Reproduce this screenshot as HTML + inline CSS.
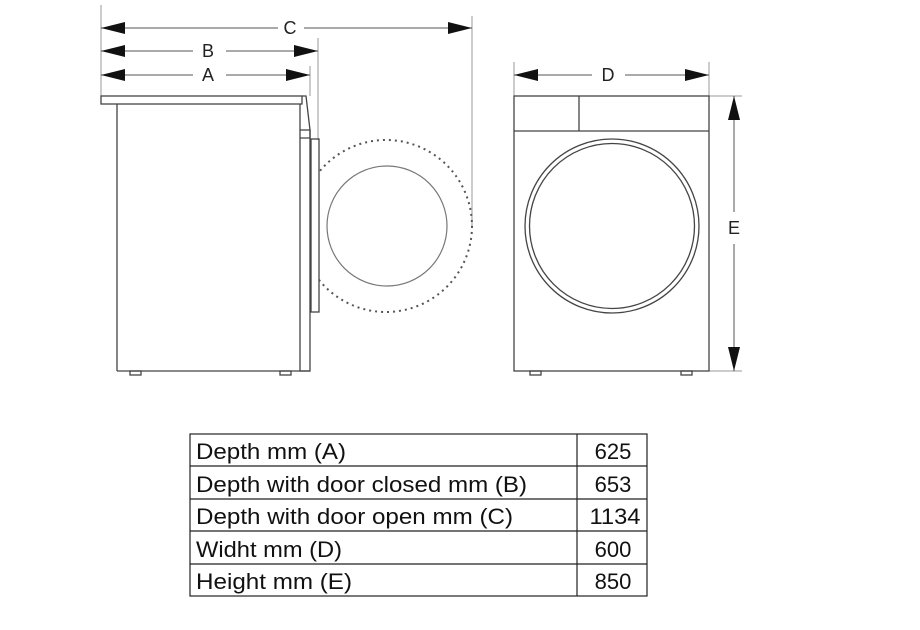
<!DOCTYPE html>
<html><head><style>
html,body{margin:0;padding:0;background:#fff;}
svg{display:block;}
</style></head><body>
<svg width="920" height="630" viewBox="0 0 920 630" xmlns="http://www.w3.org/2000/svg" font-family="Liberation Sans, sans-serif">
<defs>
<marker id="ah" markerWidth="24" markerHeight="12" refX="24" refY="6" orient="auto-start-reverse" markerUnits="userSpaceOnUse">
<path d="M0,0 L24,6 L0,12 Z" fill="#111"/></marker>
<clipPath id="cr"><rect x="319" y="100" width="200" height="260"/></clipPath>
</defs>
<g stroke="#999" stroke-width="1" fill="none">
<line x1="101" y1="5" x2="101" y2="96"/>
<line x1="318" y1="38" x2="318" y2="140"/>
<line x1="472" y1="16" x2="472" y2="226"/>
<line x1="310" y1="66" x2="310" y2="96"/>
<line x1="514" y1="62" x2="514" y2="96"/>
<line x1="709" y1="62" x2="709" y2="96"/>
<line x1="709" y1="96" x2="742" y2="96"/>
<line x1="709" y1="371" x2="742" y2="371"/>
</g>
<g stroke="#555" stroke-width="1">
<line x1="101" y1="28" x2="278" y2="28" marker-start="url(#ah)"/>
<line x1="304" y1="28" x2="472" y2="28" marker-end="url(#ah)"/>
<line x1="101" y1="51" x2="193" y2="51" marker-start="url(#ah)"/>
<line x1="226" y1="51" x2="318" y2="51" marker-end="url(#ah)"/>
<line x1="101" y1="75" x2="193" y2="75" marker-start="url(#ah)"/>
<line x1="226" y1="75" x2="310" y2="75" marker-end="url(#ah)"/>
<line x1="514" y1="75" x2="592" y2="75" marker-start="url(#ah)"/>
<line x1="625" y1="75" x2="709" y2="75" marker-end="url(#ah)"/>
<line x1="734" y1="96" x2="734" y2="212" marker-start="url(#ah)"/>
<line x1="734" y1="244" x2="734" y2="371" marker-end="url(#ah)"/>
</g>
<g font-size="18" fill="#222" text-anchor="middle">
<text x="290" y="34">C</text>
<text x="208" y="57">B</text>
<text x="208" y="81">A</text>
<text x="608" y="81">D</text>
<text x="734" y="234">E</text>
</g>
<g stroke="#444" stroke-width="1.3" fill="none">
<rect x="101" y="96" width="201" height="8"/>
<path d="M302,96 L306,96 L310,130 L310,138 L300,138"/>
<line x1="117" y1="104" x2="117" y2="371"/>
<line x1="117" y1="371" x2="310" y2="371"/>
<rect x="300" y="130" width="10" height="241"/>
<line x1="300" y1="104" x2="300" y2="130"/>
<rect x="311" y="139" width="8" height="173"/>
<rect x="130" y="371" width="11" height="4"/>
<rect x="280" y="371" width="11" height="4"/>
</g>
<circle cx="386" cy="226" r="86" stroke="#555" stroke-width="2" stroke-dasharray="2 4" fill="none" clip-path="url(#cr)"/>
<circle cx="387" cy="226" r="60" stroke="#777" stroke-width="1.2" fill="none"/>
<g stroke="#444" stroke-width="1.3" fill="none">
<rect x="514" y="96" width="195" height="275"/>
<line x1="514" y1="131" x2="709" y2="131"/>
<line x1="579" y1="96" x2="579" y2="131"/>
<circle cx="612" cy="226" r="87"/>
<circle cx="612" cy="226" r="82.5"/>
<rect x="530" y="371" width="11" height="4"/>
<rect x="681" y="371" width="11" height="4"/>
</g>
<g stroke="#222" stroke-width="1.2" fill="none">
<rect x="190" y="434" width="457" height="162"/>
<line x1="577" y1="434" x2="577" y2="596"/>
<line x1="190" y1="466" x2="647" y2="466"/>
<line x1="190" y1="499" x2="647" y2="499"/>
<line x1="190" y1="531" x2="647" y2="531"/>
<line x1="190" y1="564" x2="647" y2="564"/>
</g>
<g font-size="22" fill="#111">
<text x="196" y="459" textLength="150" lengthAdjust="spacingAndGlyphs">Depth mm (A)</text>
<text x="196" y="492" textLength="331" lengthAdjust="spacingAndGlyphs">Depth with door closed mm (B)</text>
<text x="196" y="524" textLength="317" lengthAdjust="spacingAndGlyphs">Depth with door open mm (C)</text>
<text x="196" y="557" textLength="146" lengthAdjust="spacingAndGlyphs">Widht mm (D)</text>
<text x="196" y="589" textLength="156" lengthAdjust="spacingAndGlyphs">Height mm (E)</text>
</g>
<g font-size="22" fill="#111" text-anchor="middle">
<text x="613" y="459">625</text>
<text x="613" y="492">653</text>
<text x="615" y="524" textLength="51" lengthAdjust="spacingAndGlyphs">1134</text>
<text x="613" y="557">600</text>
<text x="613" y="589">850</text>
</g>
</svg>
</body></html>
